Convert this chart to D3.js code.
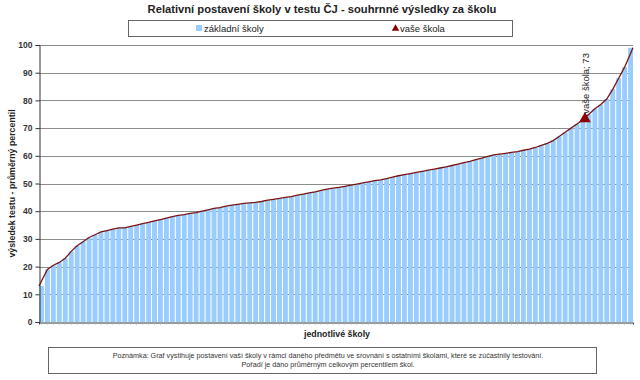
<!DOCTYPE html>
<html><head><meta charset="utf-8">
<script src="https://cdn.jsdelivr.net/npm/d3@7/dist/d3.min.js"></script>
<style>body{margin:0;background:#fff;}svg{display:block;font-family:"Liberation Sans",Arial,sans-serif;}</style>
</head><body><svg id="c" width="640" height="380"></svg>
<script>
const title = "Relativní postavení školy v testu ČJ - souhrnné výsledky za školu";
const legendLabels = ["základní školy", "vaše škola"];
const yTicks = [0,10,20,30,40,50,60,70,80,90,100];
const yTitle = "výsledek testu - průměrný percentil";
const xTitle = "jednotlivé školy";
const noteLines = ["Poznámka: Graf vystihuje postavení vaší školy v rámci daného předmětu ve srovnání s ostatními školami, které se zúčastnily testování.",
                   "Pořadí je dáno průměrným celkovým percentilem škol."];
const schoolValues = [13,19,20.5,21.5,23,25.5,27.5,29,30.5,31.5,
  32.5,33,33.5,34,34,34.5,35,35.5,36,36.5,
  37,37.5,38,38.5,38.8,39.2,39.5,40,40.5,41,
  41.3,41.8,42.2,42.5,42.8,43,43.2,43.5,44,44.3,
  44.6,45,45.3,45.8,46.2,46.6,47,47.5,48,48.3,
  48.6,49,49.4,49.8,50.2,50.6,51,51.3,51.8,52.3,
  52.8,53.2,53.6,54,54.4,54.8,55.2,55.6,56,56.5,
  57,57.5,58,58.6,59.2,59.8,60.3,60.6,60.9,61.2,
  61.5,62,62.4,63,63.8,64.5,65.5,67,68.5,70,
  71.5,73,75,77,78.5,80.5,84,88,92,99];
const yourSchoolIndex = 91;
const yourSchoolValue = 73;

const svg = d3.select("#c");
const L = 39, R = 633, T = 45, B = 322;
const x = d3.scaleBand().domain(d3.range(schoolValues.length)).range([L, R]).paddingInner(0.18).paddingOuter(0);
const y = d3.scaleLinear().domain([0,100]).range([B, T]);

// title
svg.append("text").attr("x", 322).attr("y", 13).attr("text-anchor","middle")
  .attr("font-size", 11.2).attr("font-weight","bold").attr("fill","#222").text(title);

// legend
svg.append("rect").attr("x",128.5).attr("y",20.5).attr("width",384).attr("height",16)
  .attr("fill","#fff").attr("stroke","#666").attr("stroke-width",1);
svg.append("rect").attr("x",196).attr("y",25).attr("width",6).attr("height",6).attr("fill","#99ccff");
svg.append("text").attr("x",204).attr("y",32).attr("font-size",9.5).attr("fill","#222").text(legendLabels[0]);
svg.append("path").attr("d", d3.symbol(d3.symbolTriangle, 24)()).attr("transform","translate(395.5,28.5)").attr("fill","#8b0000");
svg.append("text").attr("x",400).attr("y",32).attr("font-size",9.5).attr("fill","#222").text(legendLabels[1]);

// gridlines
svg.append("g").selectAll("line").data(yTicks.filter(d=>d>0)).join("line")
  .attr("x1",L).attr("x2",R).attr("y1",d=>Math.round(y(d))+0.5).attr("y2",d=>Math.round(y(d))+0.5)
  .attr("stroke","#8c8c8c").attr("stroke-width",1);

// bars
svg.append("g").selectAll("rect").data(schoolValues).join("rect")
  .attr("x",(d,i)=>x(i)).attr("width",x.bandwidth())
  .attr("y",d=>y(d)).attr("height",d=>B-y(d)).attr("fill","#99ccff");

// line
const line = d3.line().x((d,i)=> i===0 ? L : (i===schoolValues.length-1 ? R : x(i)+x.bandwidth()/2)).y(d=>y(d));
svg.append("path").datum(schoolValues).attr("d",line).attr("fill","none").attr("stroke","#7a1414").attr("stroke-width",1.3);

// axes
const yAxis = d3.axisLeft(y).tickValues(yTicks).tickSize(4).tickPadding(3);
const gy = svg.append("g").attr("transform",`translate(${L+0.5},0)`).call(yAxis);
gy.select(".domain").attr("stroke","#333");
gy.selectAll(".tick line").attr("stroke","#333");
gy.selectAll("text").attr("font-size",8.5).attr("font-weight","bold").attr("fill","#333").attr("font-family","Liberation Sans, Arial, sans-serif");

const xAxis = d3.axisBottom(x).tickValues(d3.range(schoolValues.length)).tickSize(2).tickFormat("");
const gx = svg.append("g").attr("transform",`translate(0,${B+0.5})`).call(xAxis);
gx.select(".domain").attr("stroke","#333");
gx.selectAll(".tick line").attr("stroke","#9ab");

// marker
const mx = x(yourSchoolIndex)+x.bandwidth()/2 + 2, my = y(yourSchoolValue);
svg.append("path").attr("d", d3.symbol(d3.symbolTriangle, 60)()).attr("transform",`translate(${mx},${my-1})`).attr("fill","#8b0000");
svg.append("text").attr("transform",`translate(${mx+4},${my-6}) rotate(-90)`).attr("font-size",9.5).attr("fill","#222")
  .text(legendLabels[1] + "; " + yourSchoolValue);

// axis titles
svg.append("text").attr("transform",`translate(15,${(T+B)/2}) rotate(-90)`).attr("text-anchor","middle")
  .attr("font-size",8.8).attr("font-weight","bold").attr("fill","#222").text(yTitle);
svg.append("text").attr("x",337).attr("y",337).attr("text-anchor","middle")
  .attr("font-size",8.8).attr("font-weight","bold").attr("fill","#222").text(xTitle);

// note box
svg.append("rect").attr("x",48.5).attr("y",347.5).attr("width",548).attr("height",26)
  .attr("fill","#fff").attr("stroke","#666").attr("stroke-width",1);
noteLines.forEach((t,i)=>{
  svg.append("text").attr("x",328).attr("y",358+i*8.5).attr("text-anchor","middle")
    .attr("font-size",7.2).attr("fill","#333").text(t);
});
</script></body></html>
